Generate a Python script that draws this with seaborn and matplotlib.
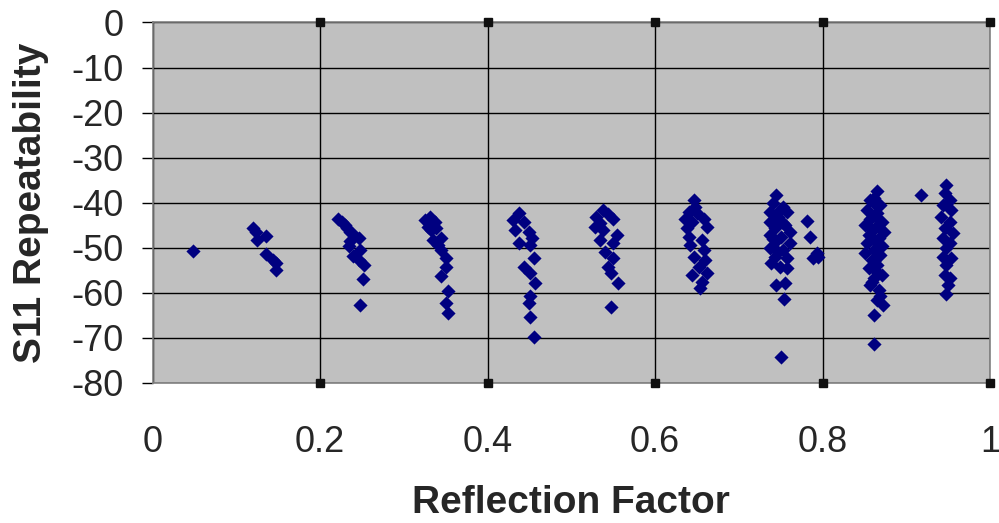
import matplotlib
matplotlib.use("Agg")
import matplotlib.pyplot as plt
import seaborn as sns

# values, grouped by reflection-factor cluster
refl_a = [0.048, 0.120, 0.124, 0.125, 0.136, 0.135, 0.144, 0.148, 0.147]
s11_a = [-50.6, -45.7, -46.4, -48.3, -47.4, -51.4, -52.6, -53.3, -54.9]

refl_b = [0.222, 0.226, 0.230, 0.232, 0.236, 0.240, 0.246, 0.236, 0.234, 0.248,
          0.239, 0.247, 0.252, 0.251, 0.248]
s11_b = [-43.5, -44.2, -44.9, -45.7, -46.4, -47.2, -47.9, -48.6, -49.6, -50.5,
         -51.8, -52.7, -53.8, -57.0, -62.8]

refl_c = [0.325, 0.331, 0.337, 0.329, 0.339, 0.333, 0.335, 0.345, 0.341, 0.345,
          0.351, 0.351, 0.345, 0.353, 0.350, 0.353]
s11_c = [-43.8, -43.1, -44.2, -45.3, -45.7, -46.0, -48.3, -47.9, -49.4, -50.5,
         -52.3, -54.2, -56.3, -59.5, -62.3, -64.4]

refl_d = [0.437, 0.431, 0.443, 0.433, 0.449, 0.453, 0.437, 0.451, 0.455, 0.443,
          0.451, 0.457, 0.451, 0.449, 0.451, 0.456]
s11_d = [-42.3, -43.8, -44.2, -46.0, -46.4, -47.9, -49.0, -49.4, -52.3, -54.2,
         -55.7, -57.9, -60.8, -62.3, -65.3, -69.7]

refl_e = [0.538, 0.530, 0.550, 0.528, 0.538, 0.554, 0.534, 0.550, 0.540, 0.550,
          0.544, 0.548, 0.556, 0.548, 0.544, 0.534]
s11_e = [-41.6, -43.1, -43.5, -45.3, -46.0, -47.2, -48.3, -49.0, -50.9, -52.3,
         -54.2, -55.7, -57.9, -63.1, -42.4, -44.6]

refl_f = [0.646, 0.640, 0.650, 0.636, 0.658, 0.644, 0.662, 0.640, 0.656, 0.642,
          0.658, 0.646, 0.660, 0.652, 0.644, 0.662, 0.656, 0.654, 0.648, 0.638]
s11_f = [-39.4, -42.0, -42.3, -43.5, -43.5, -44.2, -45.3, -47.5, -48.3, -49.4,
         -50.5, -52.0, -52.7, -54.2, -56.0, -55.7, -57.5, -59.0, -41.0, -45.5]

refl_g = [0.745, 0.741, 0.753, 0.737, 0.757, 0.747, 0.737, 0.753, 0.743, 0.761,
          0.737, 0.751, 0.745, 0.761, 0.737, 0.753, 0.743, 0.757, 0.739, 0.749,
          0.757, 0.745, 0.755, 0.754, 0.751, 0.749, 0.741, 0.747, 0.755]
s11_g = [-38.3, -40.1, -40.9, -42.0, -42.0, -43.1, -44.2, -44.6, -45.7, -46.4,
         -47.2, -47.5, -48.6, -49.0, -50.1, -50.5, -52.0, -52.3, -53.4, -54.2,
         -54.5, -58.3, -57.9, -61.4, -74.3, -41.5, -48.0, -51.0, -45.0]

refl_h = [0.782, 0.785, 0.793, 0.789, 0.795]
s11_h = [-44.0, -47.5, -51.2, -52.3, -52.0]

refl_i = [0.865, 0.857, 0.869, 0.853, 0.865, 0.857, 0.871, 0.851, 0.863, 0.873,
          0.855, 0.867, 0.853, 0.871, 0.861, 0.851, 0.869, 0.859, 0.865, 0.855,
          0.871, 0.861, 0.857, 0.867, 0.869, 0.872, 0.861, 0.861, 0.861, 0.863,
          0.859, 0.863, 0.861, 0.863, 0.859, 0.865, 0.861]
s11_i = [-37.5, -39.4, -40.5, -41.6, -42.3, -43.5, -44.2, -44.9, -45.7, -46.4,
         -47.2, -47.9, -49.0, -49.7, -50.5, -51.2, -51.6, -52.7, -53.8, -54.5,
         -56.0, -56.8, -58.3, -59.4, -60.8, -62.7, -64.9, -71.4, -40.0, -43.0,
         -46.0, -48.5, -53.0, -55.0, -57.5, -61.5, -39.0]

refl_j = [0.918, 0.947, 0.946, 0.952, 0.944, 0.954, 0.942, 0.952, 0.946, 0.956,
          0.944, 0.952, 0.948, 0.944, 0.954, 0.948, 0.946, 0.952, 0.950, 0.948]
s11_j = [-38.3, -36.1, -37.9, -39.4, -40.5, -41.6, -43.1, -44.2, -45.7, -46.8,
         -47.9, -49.0, -50.1, -52.0, -52.3, -53.8, -56.0, -56.8, -58.3, -60.3]

refl_factor = (refl_a + refl_b + refl_c + refl_d + refl_e + refl_f + refl_g
               + refl_h + refl_i + refl_j)
s11_repeat = (s11_a + s11_b + s11_c + s11_d + s11_e + s11_f + s11_g
              + s11_h + s11_i + s11_j)

x_ticks = [0, 0.2, 0.4, 0.6, 0.8, 1]
x_tick_labels = ["0", "0.2", "0.4", "0.6", "0.8", "1"]
y_ticks = [0, -10, -20, -30, -40, -50, -60, -70, -80]

sns.set_style("white")
plt.rcParams["font.family"] = ["Liberation Sans", "DejaVu Sans"]
plt.rcParams["axes.unicode_minus"] = False

fig = plt.figure(figsize=(9.99, 5.23), dpi=100)
ax = fig.add_axes([0.1527, 0.2677, 0.8383, 0.6893])
ax.set_facecolor("#C0C0C0")

sns.scatterplot(x=refl_factor, y=s11_repeat, marker="D", color="#000080",
                s=52, linewidth=0, ax=ax, zorder=3)

ax.set_xlim(0, 1)
ax.set_ylim(-80, 0)
ax.set_xticks(x_ticks)
ax.set_xticklabels(x_tick_labels)
ax.set_yticks(y_ticks)

ax.grid(True, color="black", linewidth=1.0)
ax.set_axisbelow(True)

for side in ["top", "right", "bottom", "left"]:
    ax.spines[side].set_color("#808080")
    ax.spines[side].set_linewidth(1.2)

ax.tick_params(axis="y", direction="out", length=8, width=1, color="black",
               labelsize=26, pad=13, left=True)
ax.tick_params(axis="x", length=0, labelsize=26, pad=30)

ax.set_xlabel("Reflection Factor", fontsize=28, fontweight="bold", labelpad=18)
ax.set_ylabel("S11 Repeatability", fontsize=28, fontweight="bold", labelpad=16)

# small square handles at the ends of the vertical gridlines
for t in x_ticks[1:]:
    for yy in (0, 1):
        ax.plot(t, yy, marker="s", markersize=6, color="#101010",
                transform=ax.get_xaxis_transform(), clip_on=False, zorder=5)

fig.savefig("out.png", dpi=100)
